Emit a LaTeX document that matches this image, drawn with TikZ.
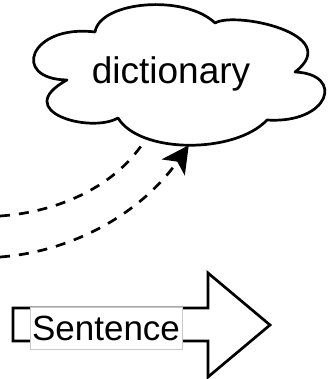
\documentclass[tikz,border=0pt]{standalone}
\usepackage{fontspec}
\setmainfont{Liberation Sans}
\usetikzlibrary{arrows.meta}
\definecolor{labelgray}{RGB}{200, 200, 200}

\begin{document}
\begin{tikzpicture}[x=1pt, y=1pt, line width=2.7pt,
		dashline/.style={dash pattern=on 10pt off 9pt},
		]
				\useasboundingbox (0,0) rectangle (327,379);
				% the cloud, puff by puff
				\draw[line join=round] (67,299) .. controls (10,300) and (30,355) .. (95,347)
					.. controls (100,378) and (185,385) .. (215,356)
					.. controls (235,368) and (345,345) .. (295,307)
					.. controls (345,305) and (330,255) .. (267,259)
					.. controls (235,225) and (140,225) .. (118,261)
						coordinate[pos=0.5] (land2) coordinate[pos=0.75] (land1)
					.. controls (90,245) and (10,268) .. (67,299) -- cycle;
				\node[font=\fontsize{37}{40}\selectfont] (dict) at (171,305) {dictionary};
				% big arrow with its label on the shaft
				\draw (13,71) -- (208,71) -- (208,106) -- (270,54) -- (208,2) -- (208,38) -- (13,38) -- cycle;
				\node[fill=white, draw=labelgray, line width=0.8pt, minimum width=152pt, minimum height=42pt,
					inner sep=0pt, font=\fontsize{35}{40}\selectfont] (sent) at (106,51) {Sentence};
				% dashed links up to the cloud
				\coordinate (src1) at (0,163);
				\coordinate (src2) at (0,122);
				\draw[dashline] (src1) .. controls (60,167) and (118,194) .. (land1);
				\draw[dashline, -{Stealth[length=27pt, width=28pt, inset=7pt]}] (src2) .. controls (70,127) and (140,164) .. (land2);
			\end{tikzpicture}
\end{document}
